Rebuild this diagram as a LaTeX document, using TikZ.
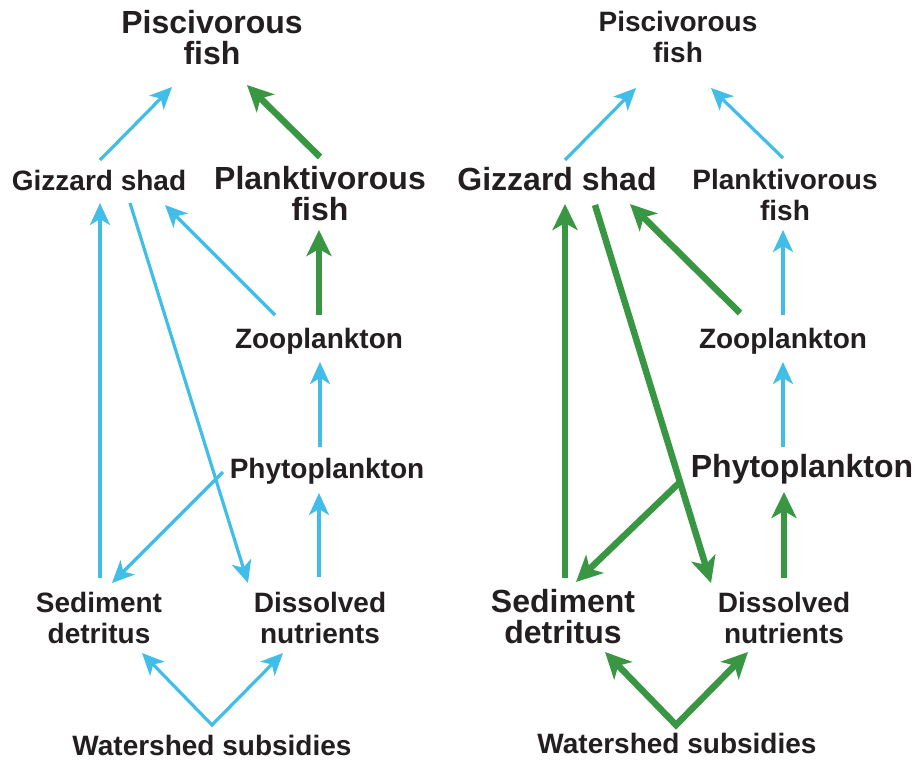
\documentclass[tikz,border=0pt]{standalone}
\usepackage{fontspec}
\setmainfont{Liberation Sans}
\usetikzlibrary{arrows.meta}
\definecolor{skyb}{RGB}{64,190,232}
\definecolor{grn}{RGB}{57,151,67}
\definecolor{txt}{RGB}{35,31,32}
\begin{document}
\begin{tikzpicture}[x=1pt,y=-1pt,
  lab/.style={font=\fontsize{28}{31}\selectfont\bfseries, text=txt, inner sep=0pt, align=center, anchor=base},
  big/.style={lab, font=\fontsize{32}{31}\selectfont\bfseries},
  bl/.style={draw=skyb, line width=3.2pt, -{Stealth[length=22pt,width=20pt,inset=6pt]}},
  gr/.style={draw=grn, line width=6.5pt, -{Stealth[length=26pt,width=25pt,inset=7pt]}},
  grV/.style={draw=grn, line width=6.5pt, {Stealth[length=26pt,width=25pt,inset=7pt]}-{Stealth[length=26pt,width=25pt,inset=7pt]}},
  blV/.style={draw=skyb, line width=3.2pt, {Stealth[length=22pt,width=20pt,inset=6pt]}-{Stealth[length=22pt,width=20pt,inset=6pt]}}
]
\fill[white] (0,0) rectangle (916,760);
\useasboundingbox (0,0) rectangle (916,760);

% ---------- left panel ----------
% (multi-line nodes are placed at the baseline of their last line)
\node[big] (pL) at (212,65) {Piscivorous\\fish};
\node[lab] (gL) at (99,190) {Gizzard shad};
\node[big] (kL) at (320,220) {Planktivorous\\fish};
\node[lab] (zL) at (319,348) {Zooplankton};
\node[lab] (yL) at (327,478) {Phytoplankton};
\node[lab] (sL) at (99,643) {Sediment\\detritus};
\node[lab] (dL) at (320,643) {Dissolved\\nutrients};
\node[lab] (wL) at (212,755) {Watershed subsidies};
\coordinate (vL) at ([shift={(0,-30)}]wL.base);

\draw[bl] ([shift={(1,-30)}]gL.base) -- ([shift={(-40,22)}]pL.base);
\draw[gr] ([shift={(0,-63)}]kL.base) -- ([shift={(35,20)}]pL.base);
\draw[gr] ([shift={(0,-33)}]zL.base) -- ([shift={(-1,10)}]kL.base);
\draw[bl] ([shift={(-44,-33)}]zL.base) -- ([shift={(66,15)}]gL.base);
\draw[bl] ([shift={(1,-65)}]sL.base) -- ([shift={(1,13)}]gL.base);
\draw[bl] ([shift={(31,13)}]gL.base) -- ([shift={(-72,-60)}]dL.base);
\draw[bl] ([shift={(-104,-6)}]yL.base) -- ([shift={(13,-60)}]sL.base);
\draw[bl] ([shift={(-1,-66)}]dL.base) -- ([shift={(-8,15)}]yL.base);
\draw[bl] ([shift={(-7,-31)}]yL.base) -- ([shift={(1,14)}]zL.base);
\draw[blV] ([shift={(43,10)}]sL.base) -- (vL) -- ([shift={(-37,10)}]dL.base);

% ---------- right panel ----------
\node[lab] (pR) at (678,63) {Piscivorous\\fish};
\node[big] (gR) at (557,190) {Gizzard shad};
\node[lab] (kR) at (785,220) {Planktivorous\\fish};
\node[lab] (zR) at (783,348) {Zooplankton};
\node[big] (yR) at (802,477) {Phytoplankton};
\node[big] (sR) at (563,643) {Sediment\\detritus};
\node[lab] (dR) at (784,643) {Dissolved\\nutrients};
\node[lab] (wR) at (677,753) {Watershed subsidies};
\coordinate (vR) at ([shift={(-1,-28)}]wR.base);

\draw[bl] ([shift={(8,-30)}]gR.base) -- ([shift={(-42,25)}]pR.base);
\draw[bl] ([shift={(-2,-62)}]kR.base) -- ([shift={(33,25)}]pR.base);
\draw[bl] ([shift={(0,-33)}]zR.base) -- ([shift={(-2,10)}]kR.base);
\draw[gr] ([shift={(-43,-35)}]zR.base) -- ([shift={(73,14)}]gR.base);
\draw[gr] ([shift={(2,-65)}]sR.base) -- ([shift={(8,14)}]gR.base);
\draw[gr] ([shift={(38,15)}]gR.base) -- ([shift={(-73,-60)}]dR.base);
\draw[gr] ([shift={(-122,5)}]yR.base) -- ([shift={(13,-61)}]sR.base);
\draw[gr] ([shift={(0,-65)}]dR.base) -- ([shift={(-18,15)}]yR.base);
\draw[bl] ([shift={(-19,-30)}]yR.base) -- ([shift={(0,14)}]zR.base);
\draw[grV] ([shift={(42,9)}]sR.base) -- (vR) -- ([shift={(-36,9)}]dR.base);
\end{tikzpicture}
\end{document}
